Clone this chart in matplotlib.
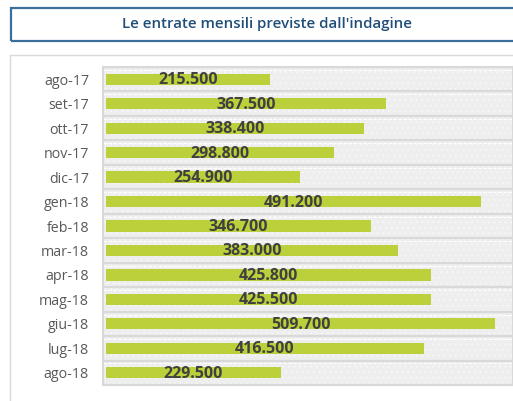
import numpy as np
import matplotlib
matplotlib.use("Agg")
import matplotlib.pyplot as plt
from matplotlib.patches import Rectangle

# data
months = ["ago-17", "set-17", "ott-17", "nov-17", "dic-17", "gen-18", "feb-18",
          "mar-18", "apr-18", "mag-18", "giu-18", "lug-18", "ago-18"]
entrate = [215.5, 367.5, 338.4, 298.8, 254.9, 491.2, 346.7,
           383.0, 425.8, 425.5, 509.7, 416.5, 229.5]
labels = ["215.500", "367.500", "338.400", "298.800", "254.900", "491.200", "346.700",
          "383.000", "425.800", "425.500", "509.700", "416.500", "229.500"]

W, H = 513, 401
plt.rcParams["hatch.linewidth"] = 0.6
fig = plt.figure(figsize=(W / 100, H / 100), dpi=100)
fig.patch.set_facecolor("white")

def px(x, y):
    # pixel coords (top-left origin) -> figure fraction
    return x / W, 1 - y / H

# title box
x0, y0 = px(11, 41)
fig.patches.append(Rectangle((x0, y0), 1.05 - x0, 33 / H, transform=fig.transFigure,
                             fill=False, edgecolor="#3b6e9b", linewidth=1.6))
fig.text(267 / W, 1 - 24 / H, "Le entrate mensili previste dall'indagine",
         ha="center", va="center", fontsize=10.8, fontweight="semibold",
         family=["Open Sans", "DejaVu Sans"], color="#1f4e79")

# outer chart frame
bx, by = px(10, 420)
fig.patches.append(Rectangle((bx, by), 1.05 - bx, (420 - 55) / H, transform=fig.transFigure,
                             fill=False, edgecolor="#d9d9d9", linewidth=1.0))

# plot area
left, top = px(103, 67)
_, bottom = px(0, 385)
ax = fig.add_axes([left, bottom, 1.0 - left, top - bottom])

n = len(months)
y = np.arange(n)
ax.set_ylim(n - 0.5, -0.5)
ax.set_xlim(-3.9, 533.4)
ax.set_facecolor("#f0f0f0")

# row stripes with light texture
for i in range(n):
    ax.axhspan(i - 0.5, i + 0.5, facecolor="#eeeeee", edgecolor="#f8f8f8",
               hatch="...", linewidth=0, zorder=0)
for b in np.arange(-0.5, n, 1.0):
    ax.axhline(b, color="#d9d9d9", linewidth=1.6, zorder=1)
    ax.axhline(b + 0.12, color="white", linewidth=0.8, linestyle=(0, (3, 1.5)), zorder=1)

ax.barh(y, entrate, height=0.46, color="#bbd03a", zorder=2)
for yi, v, lab in zip(y, entrate, labels):
    ax.text(v / 2, yi + 0.04, lab, ha="center", va="center", fontsize=11.5,
            fontweight="bold", family=["Open Sans", "DejaVu Sans"],
            color="#404040", zorder=3)

ax.set_yticks(y)
ax.set_yticklabels(months, fontsize=10.3, color="#595959", family=["Open Sans", "DejaVu Sans"])
ax.tick_params(axis="y", length=0, pad=10)
ax.set_xticks([])
for s in ax.spines.values():
    s.set_color("#d9d9d9")
    s.set_linewidth(1.5)

fig.savefig("out.png", dpi=100)
